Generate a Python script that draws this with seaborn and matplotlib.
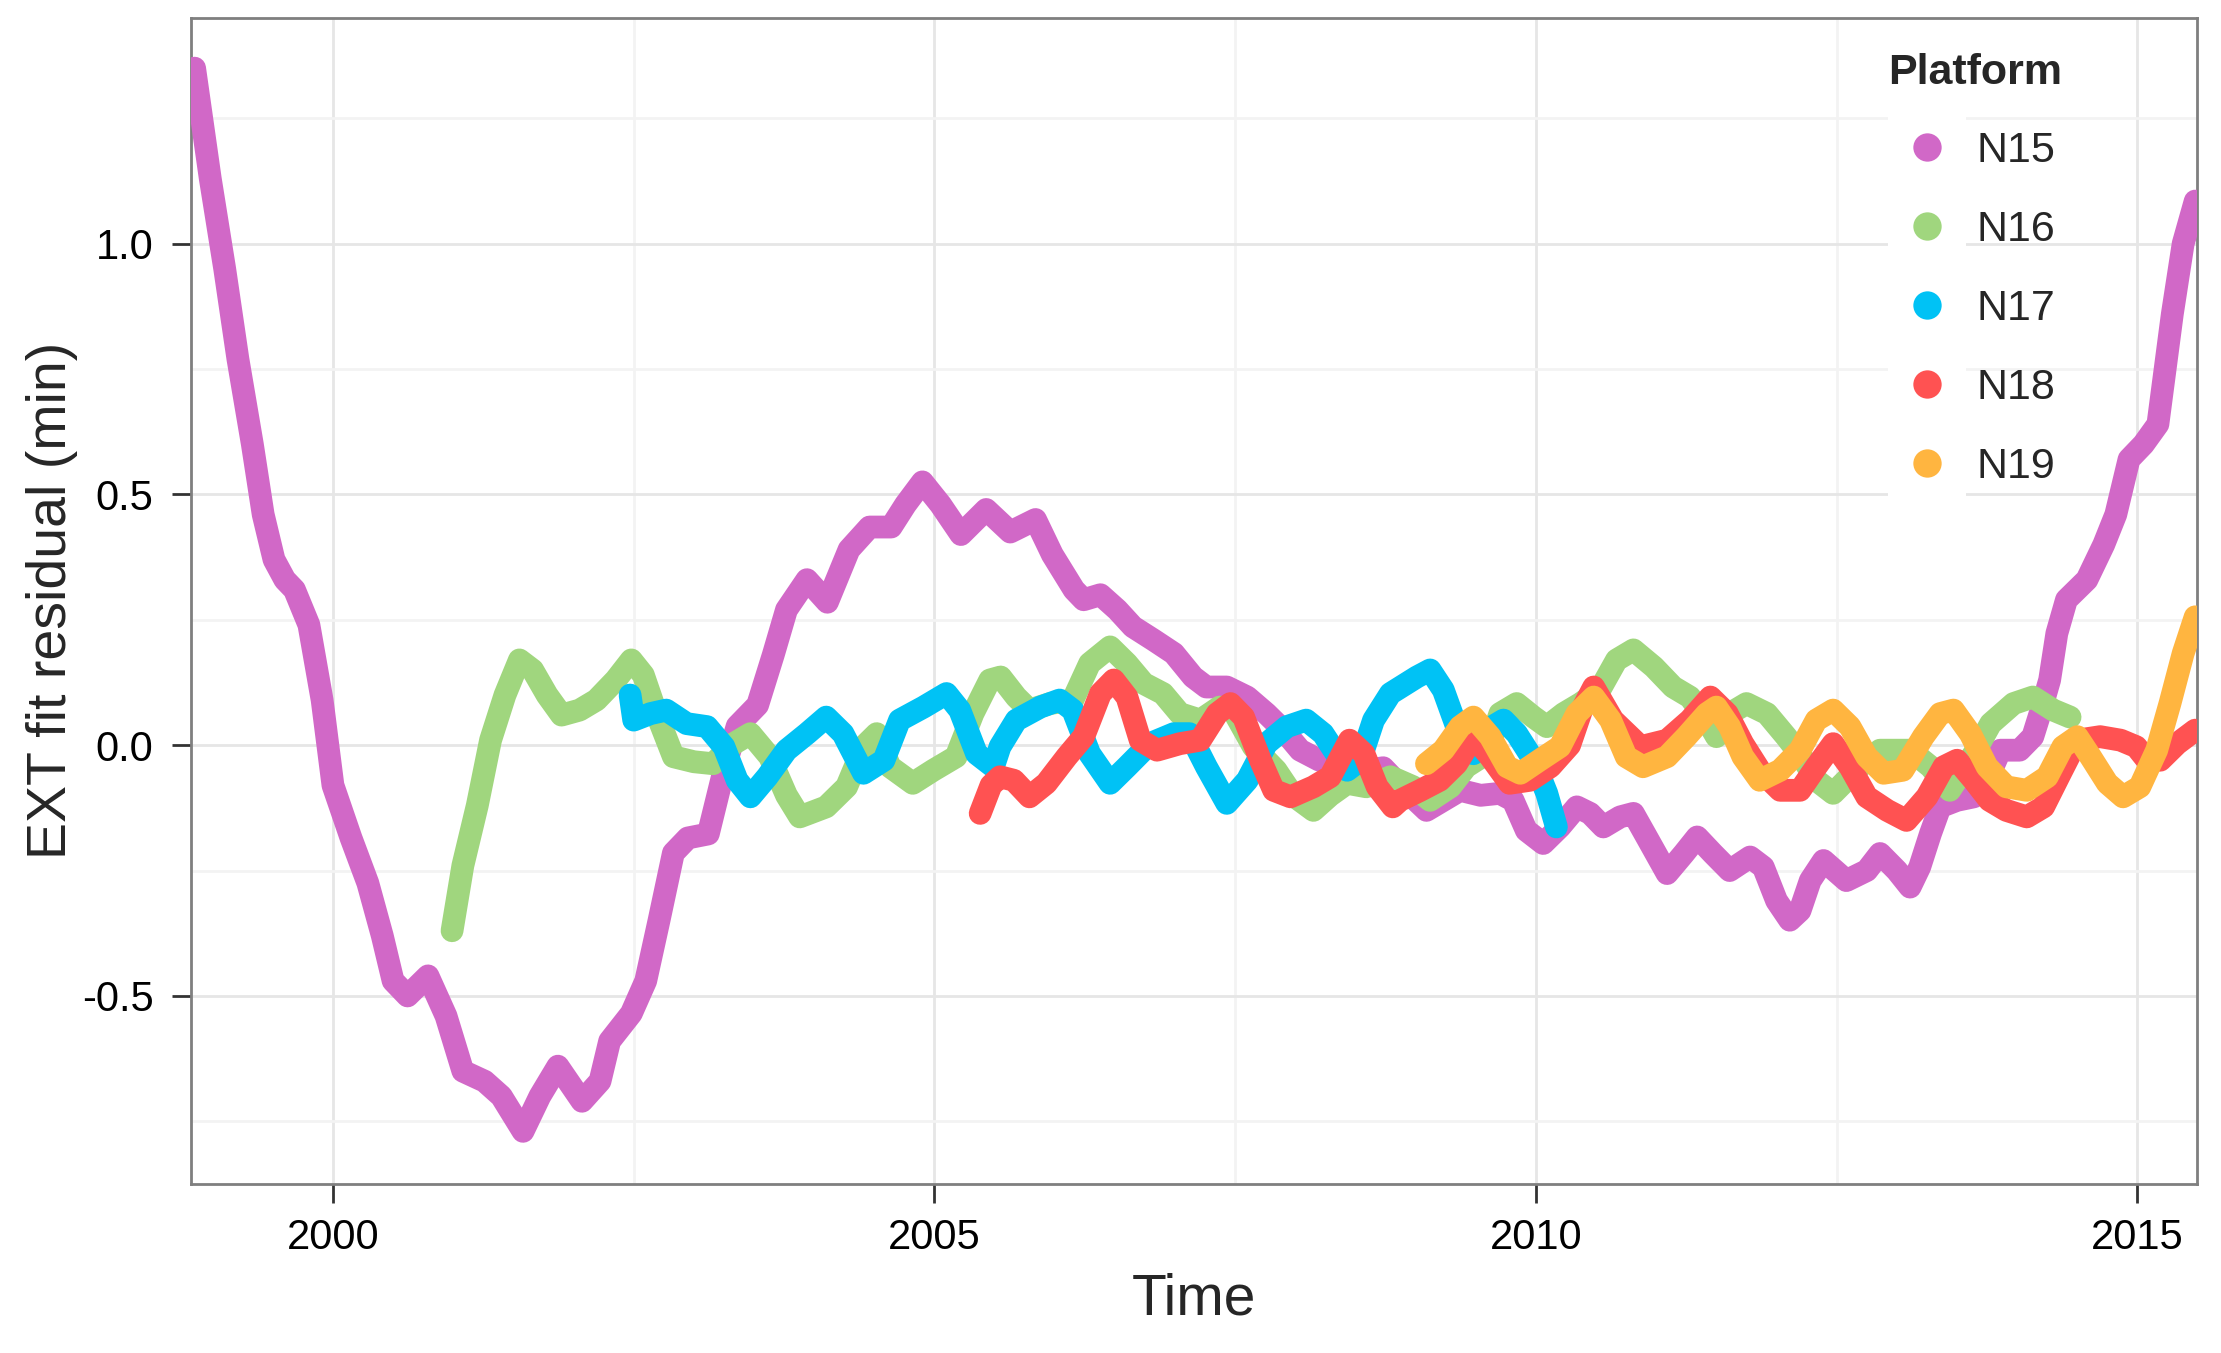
import numpy as np
import pandas as pd
import matplotlib
matplotlib.use("Agg")
import matplotlib.pyplot as plt
from matplotlib.lines import Line2D
from matplotlib.legend_handler import HandlerTuple
from matplotlib.ticker import MultipleLocator
import seaborn as sns

# ---------------- data ----------------
platforms = ["N15", "N16", "N17", "N18", "N19"]
colors = ["#D168C7", "#A0D67E", "#00C2F5", "#FF5252", "#FFB540"]

n15_t = [1998.85, 1998.98, 1999.10, 1999.21, 1999.33, 1999.42, 1999.51, 1999.60, 1999.68, 1999.80,
         1999.91, 2000.00, 2000.15, 2000.29, 2000.41, 2000.50, 2000.62, 2000.79, 2000.94, 2001.08,
         2001.26, 2001.40, 2001.58, 2001.72, 2001.87, 2002.07, 2002.22, 2002.30, 2002.48, 2002.60,
         2002.71, 2002.83, 2002.95, 2003.12, 2003.24, 2003.36, 2003.53, 2003.66, 2003.77, 2003.94,
         2004.11, 2004.29, 2004.46, 2004.64, 2004.76, 2004.90, 2005.05, 2005.22, 2005.43, 2005.63,
         2005.84, 2005.98, 2006.16, 2006.24, 2006.38, 2006.52, 2006.65, 2006.82, 2006.99, 2007.15,
         2007.26, 2007.43, 2007.60, 2007.76, 2007.90, 2008.04, 2008.20, 2008.32, 2008.45, 2008.59,
         2008.73, 2008.87, 2009.09, 2009.23, 2009.37, 2009.54, 2009.70, 2009.81, 2009.92, 2010.06,
         2010.20, 2010.34, 2010.45, 2010.56, 2010.70, 2010.81, 2010.92, 2011.09, 2011.23, 2011.34,
         2011.47, 2011.61, 2011.78, 2011.89, 2012.00, 2012.11, 2012.195, 2012.28, 2012.39, 2012.58,
         2012.75, 2012.86, 2013.00, 2013.11, 2013.19, 2013.28, 2013.36, 2013.50, 2013.64, 2013.75,
         2013.86, 2014.02, 2014.13, 2014.19, 2014.27, 2014.33, 2014.41, 2014.58, 2014.72, 2014.82,
         2014.93, 2015.05, 2015.17, 2015.29, 2015.38, 2015.48]
n15_v = [1.35, 1.13, 0.95, 0.77, 0.60, 0.46, 0.37, 0.33, 0.31, 0.24,
         0.09, -0.08, -0.185, -0.275, -0.38, -0.47, -0.50, -0.46, -0.54, -0.65,
         -0.67, -0.70, -0.77, -0.70, -0.64, -0.71, -0.67, -0.59, -0.535, -0.47,
         -0.35, -0.215, -0.185, -0.177, -0.06, 0.038, 0.08, 0.18, 0.27, 0.33,
         0.285, 0.39, 0.435, 0.435, 0.48, 0.525, 0.48, 0.42, 0.47, 0.425,
         0.45, 0.38, 0.31, 0.29, 0.30, 0.27, 0.236, 0.21, 0.183, 0.136,
         0.116, 0.116, 0.096, 0.063, 0.03, -0.01, -0.03, -0.037, -0.043, -0.05,
         -0.045, -0.08, -0.13, -0.11, -0.09, -0.10, -0.096, -0.11, -0.17, -0.196,
         -0.163, -0.123, -0.136, -0.163, -0.143, -0.136, -0.183, -0.256, -0.216, -0.183,
         -0.216, -0.25, -0.223, -0.243, -0.31, -0.349, -0.33, -0.27, -0.23, -0.27,
         -0.25, -0.216, -0.25, -0.283, -0.243, -0.176, -0.123, -0.11, -0.103, -0.07,
         -0.01, -0.01, 0.017, 0.063, 0.13, 0.223, 0.29, 0.33, 0.40, 0.46,
         0.57, 0.60, 0.64, 0.86, 1.00, 1.085]

n16_t = [2000.99, 2001.08, 2001.20, 2001.31, 2001.43, 2001.55, 2001.66, 2001.78, 2001.90, 2002.05,
         2002.19, 2002.35, 2002.48, 2002.58, 2002.69, 2002.83, 2003.00, 2003.16, 2003.33, 2003.47,
         2003.63, 2003.77, 2003.88, 2004.10, 2004.27, 2004.41, 2004.52, 2004.63, 2004.82, 2004.99,
         2005.18, 2005.32, 2005.46, 2005.55, 2005.68, 2005.79, 2005.96, 2006.15, 2006.29, 2006.46,
         2006.60, 2006.74, 2006.90, 2007.04, 2007.21, 2007.37, 2007.48, 2007.65, 2007.84, 2007.98,
         2008.15, 2008.29, 2008.43, 2008.59, 2008.79, 2008.98, 2009.12, 2009.29, 2009.42, 2009.59,
         2009.70, 2009.84, 2009.98, 2010.09, 2010.23, 2010.37, 2010.53, 2010.67, 2010.81, 2010.98,
         2011.14, 2011.28, 2011.42, 2011.50, 2011.61, 2011.75, 2011.92, 2012.08, 2012.20, 2012.33,
         2012.47, 2012.69, 2012.86, 2013.11, 2013.28, 2013.44, 2013.64, 2013.78, 2013.97, 2014.13,
         2014.30, 2014.44]
n16_v = [-0.37, -0.24, -0.12, 0.01, 0.10, 0.17, 0.15, 0.10, 0.06, 0.07,
         0.09, 0.13, 0.17, 0.14, 0.063, -0.023, -0.033, -0.037, 0.003, 0.023,
         -0.023, -0.10, -0.143, -0.123, -0.083, -0.003, 0.023, -0.043, -0.076, -0.05,
         -0.023, 0.063, 0.13, 0.136, 0.096, 0.07, 0.083, 0.09, 0.163, 0.196,
         0.163, 0.123, 0.103, 0.063, 0.05, 0.076, 0.07, -0.003, -0.05, -0.10,
         -0.13, -0.10, -0.076, -0.083, -0.063, -0.083, -0.11, -0.083, -0.043, -0.017,
         0.063, 0.083, 0.056, 0.037, 0.063, 0.083, 0.11, 0.17, 0.19, 0.156,
         0.116, 0.096, 0.05, 0.017, 0.063, 0.083, 0.063, 0.017, -0.02, -0.07,
         -0.096, -0.043, -0.01, -0.01, -0.043, -0.09, -0.017, 0.043, 0.083, 0.096,
         0.07, 0.056]

n17_t = [2002.47, 2002.50, 2002.64, 2002.77, 2002.94, 2003.11, 2003.25, 2003.36, 2003.47, 2003.61,
         2003.77, 2003.94, 2004.10, 2004.24, 2004.41, 2004.58, 2004.71, 2004.91, 2005.10, 2005.21,
         2005.35, 2005.49, 2005.545, 2005.68, 2005.88, 2006.04, 2006.15, 2006.29, 2006.46, 2006.60,
         2006.79, 2006.99, 2007.12, 2007.26, 2007.43, 2007.60, 2007.76, 2007.93, 2008.09, 2008.23,
         2008.43, 2008.54, 2008.65, 2008.79, 2009.01, 2009.12, 2009.23, 2009.34, 2009.48, 2009.59,
         2009.73, 2009.84, 2009.98, 2010.09, 2010.17]
n17_v = [0.10, 0.05, 0.063, 0.07, 0.043, 0.037, -0.003, -0.07, -0.103, -0.063,
         -0.01, 0.023, 0.056, 0.023, -0.056, -0.03, 0.05, 0.076, 0.103, 0.07,
         -0.017, -0.043, -0.003, 0.05, 0.076, 0.09, 0.07, -0.017, -0.076, -0.043,
         0.003, 0.023, 0.023, -0.043, -0.116, -0.07, 0.003, 0.037, 0.05, 0.023,
         -0.05, -0.03, 0.05, 0.103, 0.136, 0.15, 0.11, 0.037, -0.017, 0.03,
         0.05, 0.023, -0.03, -0.096, -0.163]

n18_t = [2005.38, 2005.47, 2005.545, 2005.66, 2005.79, 2005.93, 2006.10, 2006.24, 2006.38, 2006.49,
         2006.60, 2006.71, 2006.85, 2007.04, 2007.21, 2007.35, 2007.46, 2007.57, 2007.71, 2007.82,
         2007.96, 2008.15, 2008.29, 2008.45, 2008.57, 2008.68, 2008.81, 2008.87, 2009.04, 2009.20,
         2009.34, 2009.48, 2009.62, 2009.78, 2009.95, 2010.12, 2010.28, 2010.38, 2010.48, 2010.64,
         2010.87, 2011.09, 2011.28, 2011.45, 2011.59, 2011.72, 2011.86, 2012.03, 2012.195, 2012.33,
         2012.47, 2012.61, 2012.75, 2012.92, 2013.08, 2013.25, 2013.39, 2013.50, 2013.64, 2013.77,
         2013.91, 2014.08, 2014.22, 2014.36, 2014.50, 2014.69, 2014.86, 2014.99, 2015.08, 2015.19,
         2015.33, 2015.48]
n18_v = [-0.136, -0.08, -0.063, -0.07, -0.103, -0.076, -0.023, 0.017, 0.103, 0.13,
         0.096, 0.01, -0.01, 0.003, 0.01, 0.063, 0.083, 0.056, -0.03, -0.09,
         -0.103, -0.083, -0.063, 0.01, -0.017, -0.083, -0.123, -0.11, -0.09, -0.07,
         -0.037, 0.017, -0.023, -0.076, -0.07, -0.043, 0.0, 0.07, 0.116, 0.05,
         -0.003, 0.01, 0.05, 0.096, 0.063, 0.003, -0.05, -0.09, -0.09, -0.043,
         0.003, -0.043, -0.103, -0.13, -0.15, -0.103, -0.043, -0.03, -0.07, -0.11,
         -0.13, -0.143, -0.123, -0.056, 0.01, 0.017, 0.01, -0.003, -0.03, -0.03,
         0.003, 0.03]

n19_t = [2009.09, 2009.23, 2009.37, 2009.48, 2009.62, 2009.76, 2009.87, 2010.03, 2010.20, 2010.34,
         2010.48, 2010.62, 2010.75, 2010.89, 2011.09, 2011.25, 2011.42, 2011.50, 2011.61, 2011.72,
         2011.86, 2012.03, 2012.195, 2012.33, 2012.47, 2012.61, 2012.75, 2012.89, 2013.05, 2013.22,
         2013.36, 2013.47, 2013.61, 2013.75, 2013.91, 2014.08, 2014.25, 2014.38, 2014.50, 2014.61,
         2014.75, 2014.88, 2015.02, 2015.16, 2015.27, 2015.38, 2015.48]
n19_v = [-0.037, -0.01, 0.037, 0.056, 0.017, -0.043, -0.056, -0.03, -0.003, 0.063,
         0.096, 0.05, -0.023, -0.043, -0.023, 0.017, 0.063, 0.076, 0.037, -0.023,
         -0.07, -0.05, -0.01, 0.05, 0.07, 0.037, -0.023, -0.056, -0.05, 0.017,
         0.063, 0.07, 0.023, -0.043, -0.083, -0.09, -0.063, -0.003, 0.017, -0.023,
         -0.076, -0.103, -0.083, -0.01, 0.083, 0.183, 0.256]

x_ticks = [2000, 2005, 2010, 2015]
y_ticks = [-0.5, 0.0, 0.5, 1.0]
x_label = "Time"
y_label = "EXT fit residual (min)"
legend_title = "Platform"

# ---------------- build long table ----------------
series = {"N15": (n15_t, n15_v), "N16": (n16_t, n16_v), "N17": (n17_t, n17_v),
          "N18": (n18_t, n18_v), "N19": (n19_t, n19_v)}
frames = [pd.DataFrame({"Time": t, "resid": v, "Platform": p}) for p, (t, v) in series.items()]
df = pd.concat(frames, ignore_index=True)
palette = dict(zip(platforms, colors))

# ---------------- style ----------------
sns.set_style("white")
plt.rcParams["font.family"] = ["Liberation Sans", "DejaVu Sans"]

W, H = 2221, 1353
fig = plt.figure(figsize=(W / 200, H / 200), dpi=200)
ax = fig.add_axes([191 / W, 1 - 1183.5 / H, (2197 - 191) / W, (1183.5 - 18) / H])

for p in platforms:
    sub = df[df["Platform"] == p]
    sns.lineplot(data=sub, x="Time", y="resid", color=palette[p], linewidth=8.2,
                 estimator=None, sort=True, legend=False, ax=ax,
                 solid_capstyle="round", solid_joinstyle="round", zorder=3)

ax.set_xlim(1998.82, 2015.495)
ax.set_ylim(-0.874, 1.450)
ax.set_xticks(x_ticks)
ax.set_xticklabels([str(t) for t in x_ticks])
ax.set_yticks(y_ticks)
ax.set_yticklabels([f"{t:.1f}" for t in y_ticks])
ax.xaxis.set_minor_locator(MultipleLocator(2.5))
ax.yaxis.set_minor_locator(MultipleLocator(0.25))

ax.set_axisbelow(True)
ax.grid(which="major", color="#E6E6E6", linewidth=1.0)
ax.grid(which="minor", color="#F3F3F3", linewidth=1.0)

for s in ax.spines.values():
    s.set_visible(True)
    s.set_color("#7F7F7F")
    s.set_linewidth(1.0)

ax.tick_params(which="major", axis="both", length=7, width=1.0, color="#333333",
               labelsize=15, labelcolor="black", direction="out")
ax.tick_params(which="major", axis="y", pad=6.5, left=True)
ax.tick_params(which="major", axis="x", pad=5.5, bottom=True)
ax.tick_params(which="minor", length=0)

ax.set_xlabel(x_label, fontsize=20.5, labelpad=5)
ax.set_ylabel(y_label, fontsize=20, labelpad=1.5)

# legend: white square key background (ggplot style) + coloured dot
handles = []
for p in platforms:
    key_bg = Line2D([0], [0], marker="s", linestyle="", color="white",
                    markeredgewidth=0, markersize=28.2)
    dot = Line2D([0], [0], marker="o", linestyle="", color=palette[p],
                 markeredgewidth=0, markersize=10.2)
    handles.append((key_bg, dot))
leg = ax.legend(handles, platforms, title=legend_title, loc="upper left",
                bbox_to_anchor=(1888 / W, 1 - 52.5 / H), bbox_transform=fig.transFigure,
                frameon=False, borderpad=0, borderaxespad=0, handlelength=1.8,
                handletextpad=0.26, labelspacing=0.905, fontsize=15.5,
                handler_map={tuple: HandlerTuple(ndivide=1, pad=0)},
                title_fontproperties={"weight": "bold", "size": 15.5}, alignment="left")

fig.savefig("out.png", dpi=200)
